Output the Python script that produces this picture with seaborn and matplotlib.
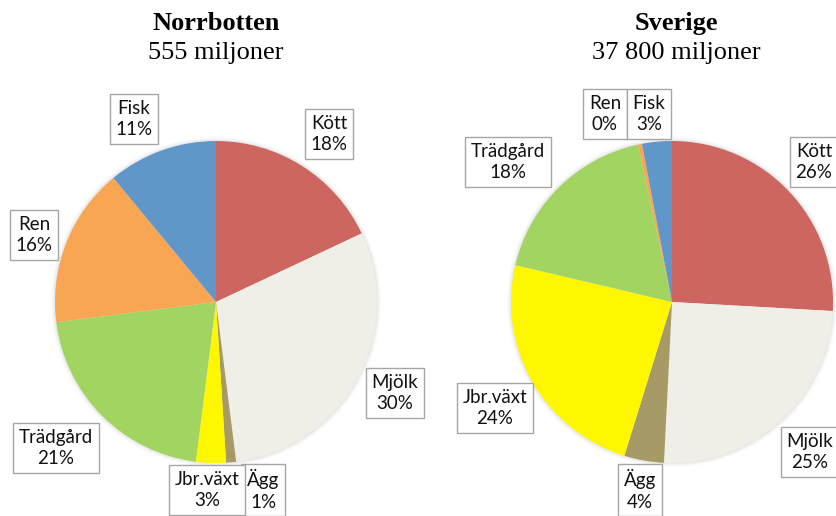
import matplotlib
matplotlib.use('Agg')
import matplotlib.pyplot as plt
from matplotlib.patches import Circle
import seaborn as sns

# Data (share of production value, %)
categories = ['Kött', 'Mjölk', 'Ägg', 'Jbr.växt', 'Trädgård', 'Ren', 'Fisk']
norrbotten_values = [18, 30, 1, 3, 21, 16, 11]
sverige_values = [26, 25, 4, 24, 18, 0.4, 3]
titles = ['Norrbotten', 'Sverige']
subtitles = ['555 miljoner', '37 800 miljoner']

colors = ['#CD6661', '#EFEFE7', '#A69A67', '#FFF700', '#A2D462', '#F9A654', '#6196C9']

sns.set_theme(style='white')
plt.rcParams['font.family'] = ['Lato', 'DejaVu Sans']

W, H = 836, 516
fig = plt.figure(figsize=(W / 100, H / 100), dpi=100)
ax = fig.add_axes([0, 0, 1, 1])


def Y(y):
    # convert top-down pixel position to axis coords
    return H - y


pies = [
    dict(values=norrbotten_values, center=(216, 302), title_x=216,
         label_pos={'Kött': (329, 134), 'Mjölk': (395, 393), 'Ägg': (263, 490),
                    'Jbr.växt': (207, 490), 'Trädgård': (56, 448), 'Ren': (34, 235),
                    'Fisk': (134, 119)}),
    dict(values=sverige_values, center=(672, 302), title_x=676,
         label_pos={'Kött': (814, 162), 'Mjölk': (810, 452), 'Ägg': (640, 490),
                    'Jbr.växt': (495, 408), 'Trädgård': (508, 162), 'Ren': (605, 114),
                    'Fisk': (649, 114)}),
]
radius = 161

for i, p in enumerate(pies):
    cx, cy = p['center']
    # soft shadow behind the pie
    for k, a in [(4, 0.04), (2.5, 0.06), (1.2, 0.08)]:
        ax.add_patch(Circle((cx, Y(cy)), radius + k, color='#808080', alpha=a, lw=0, zorder=0))
    ax.pie(p['values'], colors=colors, center=(cx, Y(cy)), radius=radius,
           startangle=90, counterclock=False,
           wedgeprops=dict(linewidth=0), frame=True)

    total = sum(p['values'])
    for cat, val in zip(categories, p['values']):
        lx, ly = p['label_pos'][cat]
        ax.text(lx, Y(ly), f"{cat}\n{val / total * 100:.0f}%", ha='center', va='center',
                fontsize=13.5, color='#111111', linespacing=1.3, zorder=5,
                bbox=dict(boxstyle='square,pad=0.3', fc='white', ec='#a6a6a6', lw=1))

    ax.text(p['title_x'], Y(30), titles[i], ha='center', va='baseline',
            fontsize=19, fontweight='bold', family='Liberation Serif', color='black')
    ax.text(p['title_x'], Y(59), subtitles[i], ha='center', va='baseline',
            fontsize=19, family='Liberation Serif', color='black')

ax.set_xlim(0, W)
ax.set_ylim(0, H)
ax.set_aspect('equal')
ax.axis('off')

fig.savefig('out.png', dpi=100)
